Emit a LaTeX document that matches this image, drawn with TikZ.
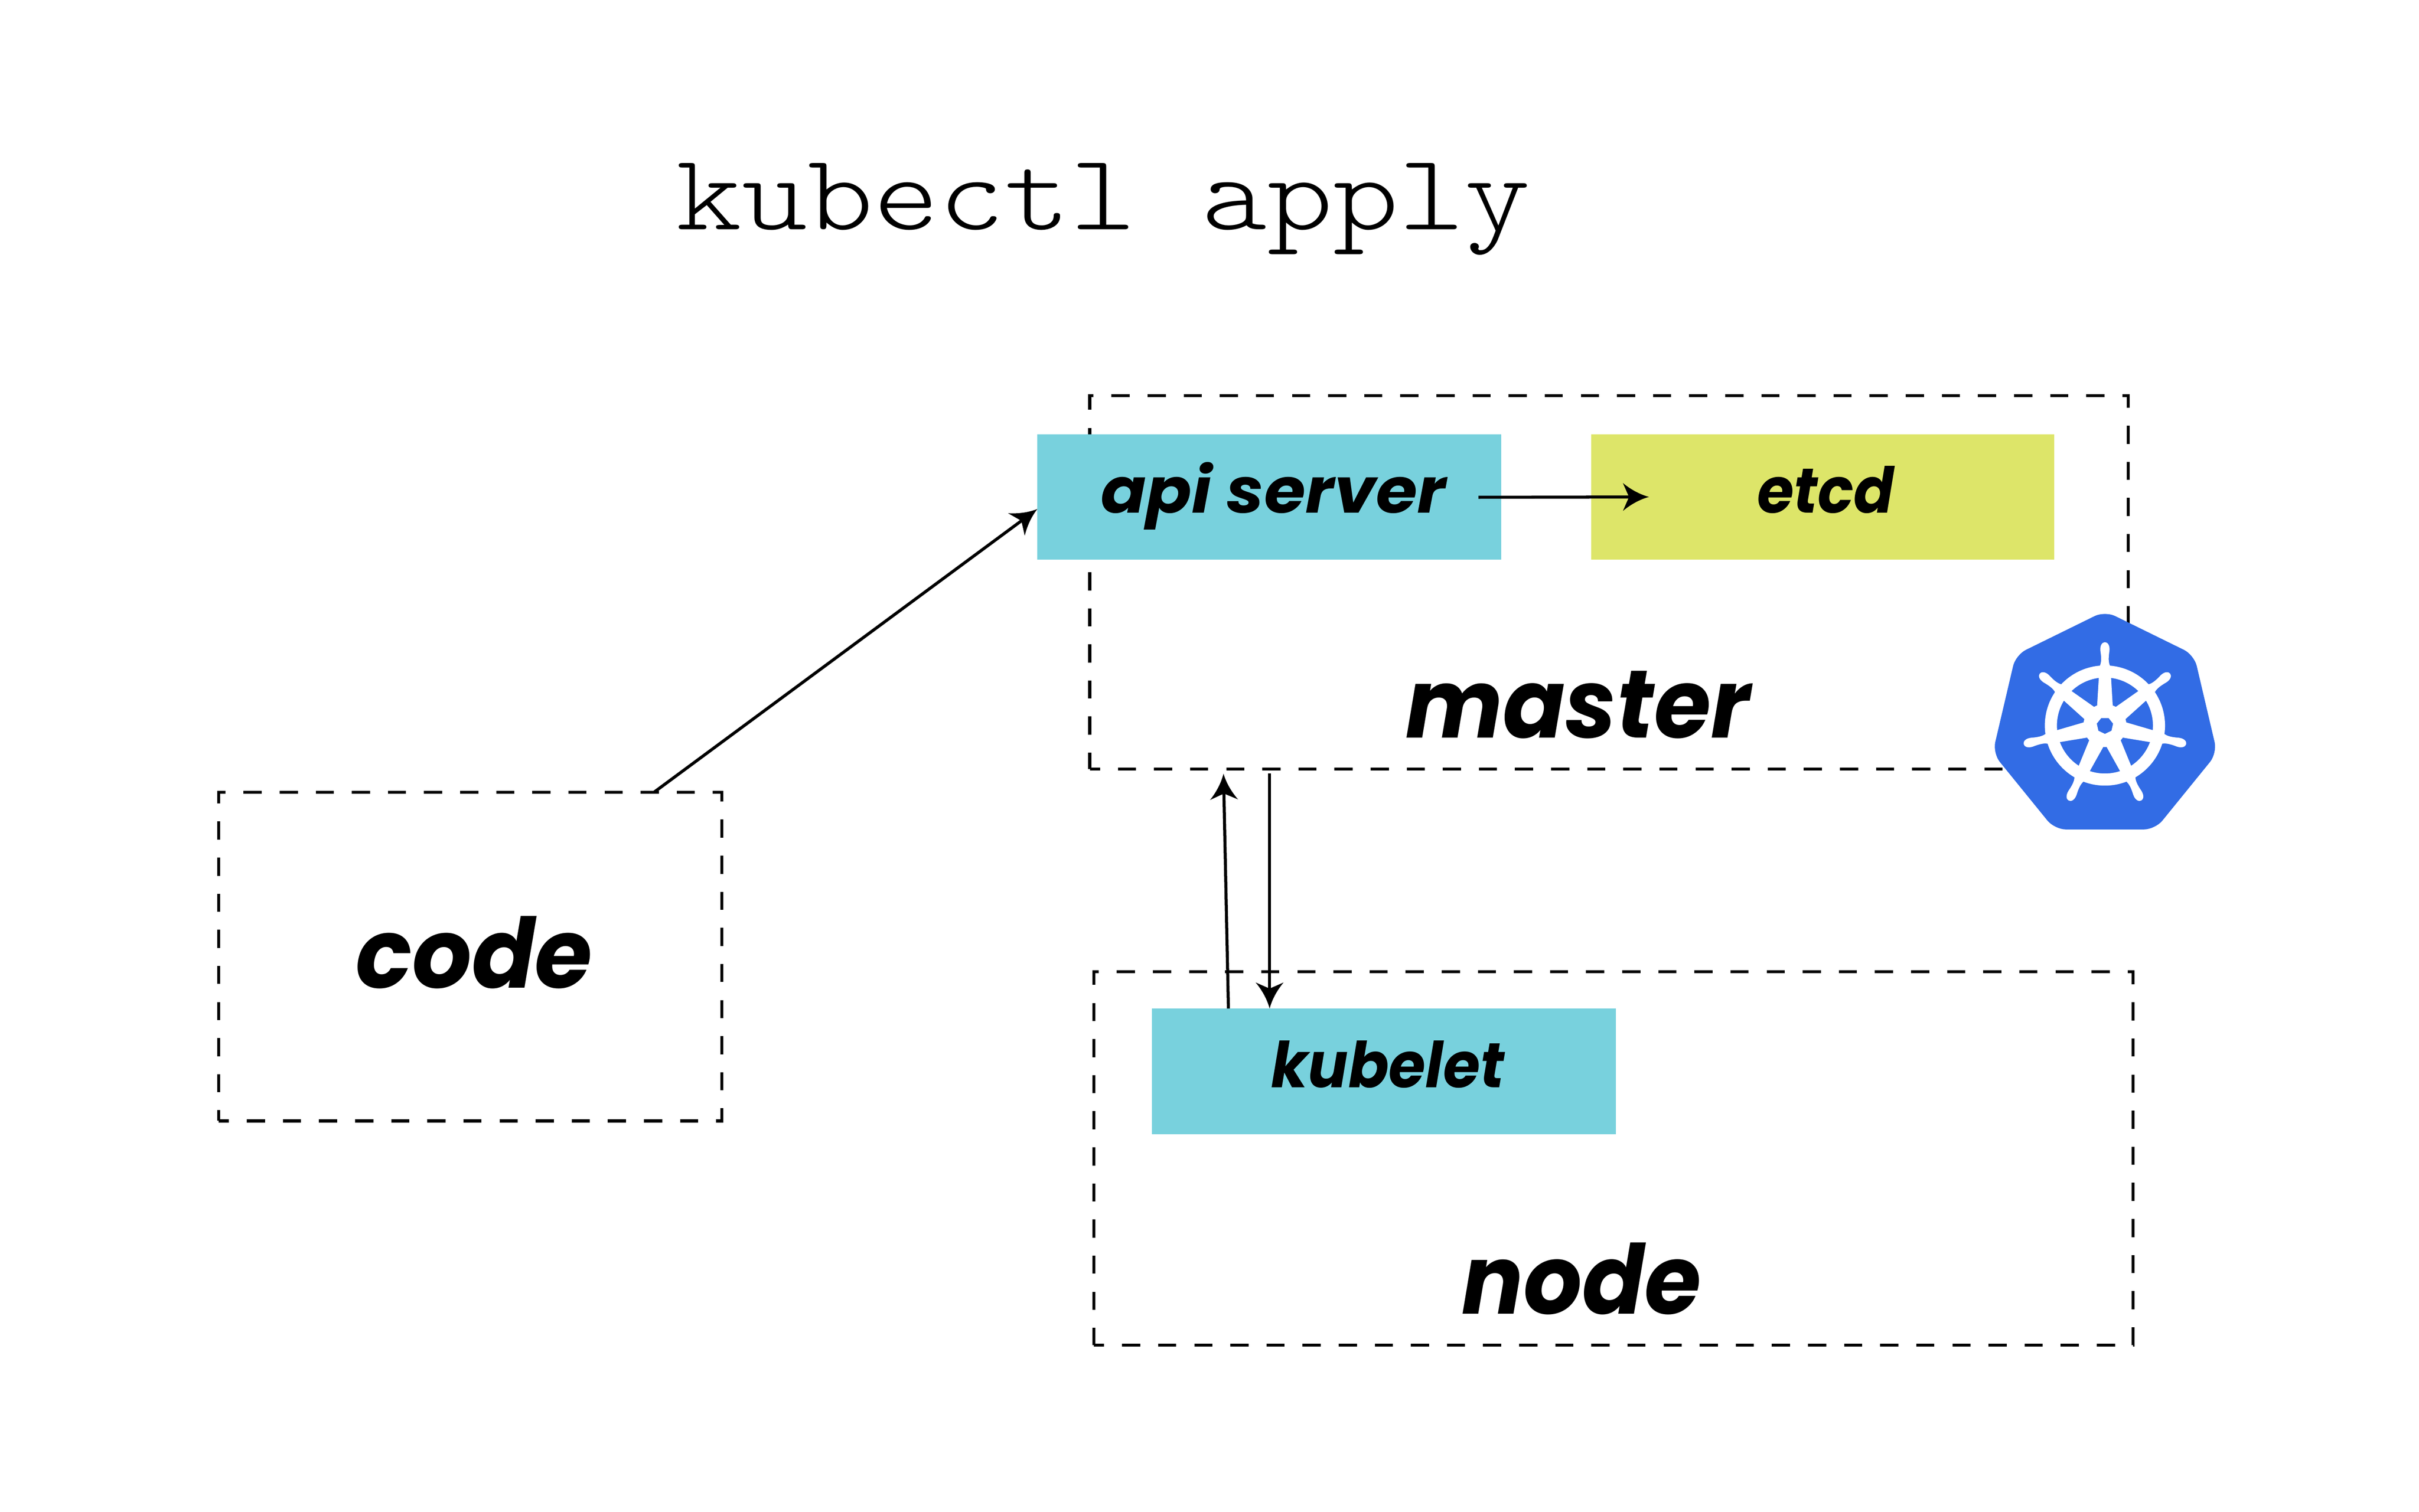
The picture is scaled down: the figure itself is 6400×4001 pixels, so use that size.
\documentclass[tikz,border=0pt]{standalone}
\usepackage{fontspec}
\usepackage{graphicx}
\usetikzlibrary{arrows.meta,calc}
\newfontfamily\lblfont{Poppins}
\newfontfamily\titlefont{Latin Modern Mono Light}
\definecolor{kcyan}{HTML}{78D1DD}
\definecolor{klime}{HTML}{DDE569}
\definecolor{kblue}{HTML}{326CE5}
\pgfdeclarearrow{
  name=Kite,
  setup code={
    \pgfarrowssettipend{0pt}
    \pgfarrowssetlineend{-14pt}
    \pgfarrowssetvisualbackend{-19.6pt}
    \pgfarrowssetbackend{-19.6pt}
    \pgfarrowshullpoint{0pt}{0pt}
    \pgfarrowshullpoint{-19.6pt}{10.5pt}
    \pgfarrowshullpoint{-19.6pt}{-10.5pt}
  },
  drawing code={
    \pgfpathmoveto{\pgfpoint{0pt}{0pt}}
    \pgfpathcurveto{\pgfpoint{-6pt}{1.6pt}}{\pgfpoint{-13pt}{5pt}}{\pgfpoint{-19.6pt}{10.5pt}}
    \pgfpathlineto{\pgfpoint{-15pt}{0pt}}
    \pgfpathlineto{\pgfpoint{-19.6pt}{-10.5pt}}
    \pgfpathcurveto{\pgfpoint{-13pt}{-5pt}}{\pgfpoint{-6pt}{-1.6pt}}{\pgfpoint{0pt}{0pt}}
    \pgfpathclose
    \pgfusepathqfill
  },
}
\newcommand{\fitlabel}[3]{\resizebox{#1}{#2\height}{\fontsize{100}{110}\selectfont\lblfont\bfseries\itshape #3}}
\tikzset{
  container/.style={draw=black,line width=2.28pt,dash pattern=on 13.66pt off 13.5pt,dash phase=6pt,inner sep=0pt,outer sep=0pt},
  solidbox/.style={inner sep=0pt,outer sep=0pt,draw=none},
  link/.style={draw=black,line width=2.28pt,-Kite},
  boxlabel/.style={inner sep=0pt,outer sep=0pt,anchor=base west},
}
\begin{document}
\begin{tikzpicture}[x=0.01cm,y=-0.01cm]
\useasboundingbox (0,0) rectangle (6400,4001);
\fill[white] (0,0) rectangle (6400,4001);
% title
\node[boxlabel] (title) at (1789,608) {\scalebox{0.992}[0.86]{\fontsize{94.9}{100}\selectfont\titlefont kubectl apply}};
% containers
\node[container,minimum width=27.46cm,minimum height=9.88cm] (master) at (4257,1541) {};
\node[container,minimum width=27.48cm,minimum height=9.87cm] (nodebox) at (4269,3065.5) {};
\node[container,minimum width=13.30cm,minimum height=8.69cm] (code) at (1244,2531.5) {};
% solid boxes
\node[solidbox,fill=kcyan,minimum width=12.27cm,minimum height=3.32cm] (api) at (3358.5,1315) {};
\node[solidbox,fill=klime,minimum width=12.25cm,minimum height=3.32cm] (etcd) at (4822.5,1315) {};
\node[solidbox,fill=kcyan,minimum width=12.27cm,minimum height=3.32cm] (kubelet) at (3661.5,2835) {};
% labels
\node[boxlabel] (codelabel) at (942,2615) {\fitlabel{6.25cm}{0.73}{code}};
\node[boxlabel] (apilabel) at (2912,1358) {\fitlabel{9.13cm}{0.477}{api server}};
\node[boxlabel] (etcdlabel) at (4649,1358) {\fitlabel{3.62cm}{0.477}{etcd}};
\node[boxlabel] (masterlabel) at (3719,1952) {\fitlabel{9.11cm}{0.725}{master}};
\node[boxlabel] (nodelabel) at (3868,3477) {\fitlabel{6.32cm}{0.725}{node}};
\node[boxlabel] (kubeletlabel) at (3363,2878) {\fitlabel{6.17cm}{0.477}{kubelet}};
% connectors
\draw[link] ($(code.north)+(486,0)$) -- ($(api.west)+(0,32)$);
\draw[link] ($(api.east)+(-61,1)$) -- ($(etcd.west)+(153,0)$);
\draw[link] ($(kubelet.north)+(-411.5,0)$) -- ($(master.south)+(-1020,12)$);
\draw[link] ($(master.south)+(-898,12)$) -- ($(kubelet.north)+(-302.5,0)$);
% logo
\fill[kblue,rounded corners=30*0.2845pt] (5569,1617) -- (5805,1733) -- (5866,1993) -- (5702,2195) -- (5436,2195) -- (5272,1993) -- (5333,1733) -- cycle;
\begin{scope}[shift={(5569,1920)},y=0.01cm]
  \fill[white,even odd rule] (0,0) circle [radius=159] (0,0) circle [radius=127];
  \fill[white] (0,0) circle [radius=57];
  \foreach \k in {0,...,6}{
    \fill[white,rotate=\k*360/7] (-22,30) -- (-16,130) -- (-15,155)
      .. controls (-9,165) and (-9,178) .. (-12,198)
      .. controls (-15,228) and (15,228) .. (12,198)
      .. controls (9,178) and (9,165) .. (15,155)
      -- (16,130) -- (22,30) -- cycle;
  }
  \fill[kblue] (270:22) -- (321.43:22) -- (12.86:22) -- (64.29:22) -- (115.71:22) -- (167.14:22) -- (218.57:22) -- cycle;
\end{scope}
\end{tikzpicture}
\end{document}
